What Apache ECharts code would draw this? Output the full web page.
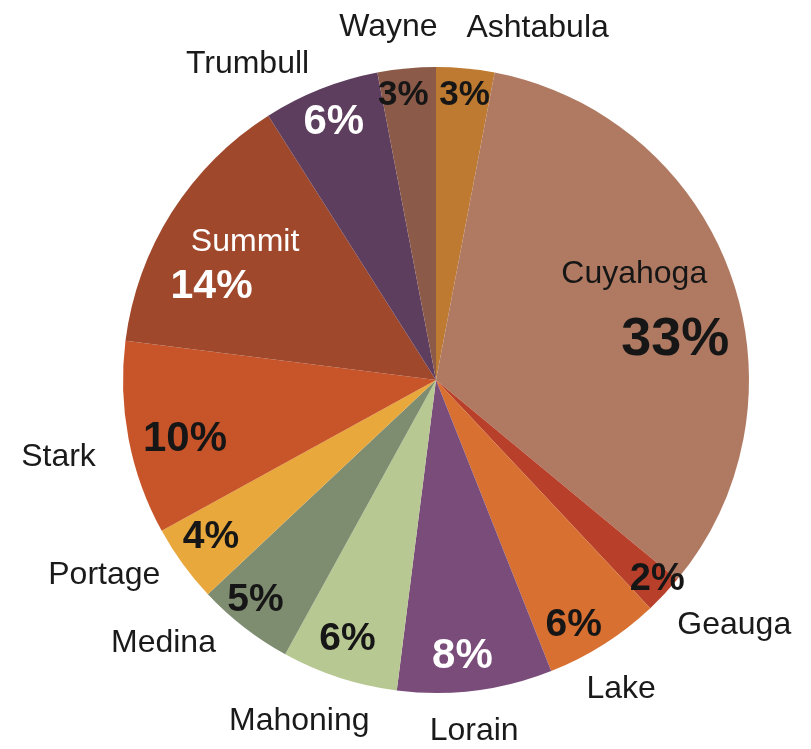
<!DOCTYPE html>
<html>
<head>
<meta charset="utf-8">
<script src="https://cdn.jsdelivr.net/npm/echarts@6/dist/echarts.min.js"></script>
<style>
  html, body { margin: 0; padding: 0; background: #ffffff; }
  #chart { width: 811px; height: 749px; }
</style>
</head>
<body>
<div id="chart"></div>
<script>
// ---- data ----
const counties = ['Ashtabula', 'Cuyahoga', 'Geauga', 'Lake', 'Lorain', 'Mahoning',
                  'Medina', 'Portage', 'Stark', 'Summit', 'Trumbull', 'Wayne'];
const shares = [3, 33, 2, 6, 8, 6, 5, 4, 10, 14, 6, 3];
const colors = ['#BE7A30', '#B07A62', '#B8402A', '#D87032', '#7A4C7A', '#B8C892',
                '#7E8C70', '#E8A83C', '#C8552A', '#A0482C', '#5E3E5E', '#8C5A48'];

// ---- label styling (positions/sizes/colours, not data) ----
const FONT = '"Liberation Sans", Arial, Helvetica, sans-serif';
const DARK = '#161616';
const pctStyle = {
  Ashtabula: { size: 35, color: DARK, offset: [2, -3] },
  Cuyahoga:  { size: 54, color: DARK, offset: [-27, 32] },
  Geauga:    { size: 38, color: DARK, offset: [15, 6] },
  Lake:      { size: 39, color: DARK, offset: [-14, 6] },
  Lorain:    { size: 42, color: '#ffffff', offset: [-9, -4] },
  Mahoning:  { size: 39, color: DARK, offset: [-1, -10] },
  Medina:    { size: 39, color: DARK, offset: [-7, -3] },
  Portage:   { size: 39, color: DARK, offset: [4, -9] },
  Stark:     { size: 42, color: DARK, offset: [27, 6] },
  Summit:    { size: 41, color: '#ffffff', offset: [48, 40] },
  Trumbull:  { size: 42, color: '#ffffff', offset: [2, 6] },
  Wayne:     { size: 35, color: DARK, offset: [-6, -3] }
};
const nameOffset = {
  Ashtabula: [67, 15], Geauga: [30, -7], Lake: [-12, -2], Lorain: [-8, -14],
  Mahoning: [-23, -9], Medina: [-47, -28], Portage: [-34, -21], Stark: [-16, 8],
  Trumbull: [-53, 26], Wayne: [-13, 14]
};
const insideNames = { Cuyahoga: true, Summit: true };

const CENTER = [436, 380];
const R = 313;

const pieData = counties.map((c, i) => ({
  name: c, value: shares[i], itemStyle: { color: colors[i] }
}));

const pctData = counties.map((c, i) => {
  const s = pctStyle[c];
  const item = {
    name: c, value: shares[i],
    label: { offset: s.offset, color: s.color, fontSize: s.size }
  };
  if (c === 'Cuyahoga') {
    item.label.formatter = '{n|' + c + '}\n{p|' + shares[i] + '%}';
    item.label.rich = {
      n: { fontFamily: FONT, fontSize: 32, fontWeight: 'normal', color: DARK, lineHeight: 48, padding: [0, 82, 0, 0] },
      p: { fontFamily: FONT, fontSize: s.size, fontWeight: 'bold', color: DARK, lineHeight: 84 }
    };
  } else if (c === 'Summit') {
    item.label.formatter = '{n|' + c + '}\n{p|' + shares[i] + '%}';
    item.label.rich = {
      n: { fontFamily: FONT, fontSize: 32, fontWeight: 'normal', color: '#ffffff', lineHeight: 36 },
      p: { fontFamily: FONT, fontSize: s.size, fontWeight: 'bold', color: '#ffffff', lineHeight: 53, padding: [0, 67, 0, 0] }
    };
  }
  return item;
});

const nameData = counties.map((c, i) => ({
  name: c, value: shares[i],
  label: insideNames[c] ? { show: false } : { offset: nameOffset[c] }
}));

const transparent = { color: 'rgba(0,0,0,0)', borderWidth: 0 };

const chart = echarts.init(document.getElementById('chart'), null, { renderer: 'canvas' });
chart.setOption({
  backgroundColor: '#ffffff',
  animation: false,
  series: [
    {
      type: 'pie', center: CENTER, radius: R, startAngle: 90, clockwise: true,
      silent: true, label: { show: false }, labelLine: { show: false },
      itemStyle: { borderWidth: 0 },
      data: pieData
    },
    {
      type: 'pie', center: CENTER, radius: [0, 560], startAngle: 90, clockwise: true,
      silent: true, itemStyle: transparent, labelLine: { show: false },
      label: {
        show: true, position: 'inside', fontFamily: FONT, fontWeight: 'bold',
        formatter: p => p.value + '%'
      },
      data: pctData
    },
    {
      type: 'pie', center: CENTER, radius: [R, R + 104], startAngle: 90, clockwise: true,
      silent: true, itemStyle: transparent, labelLine: { show: false },
      label: {
        show: true, position: 'inside', fontFamily: FONT, fontSize: 32,
        color: '#1a1a1a', formatter: p => p.name
      },
      data: nameData
    }
  ]
});
</script>
</body>
</html>
